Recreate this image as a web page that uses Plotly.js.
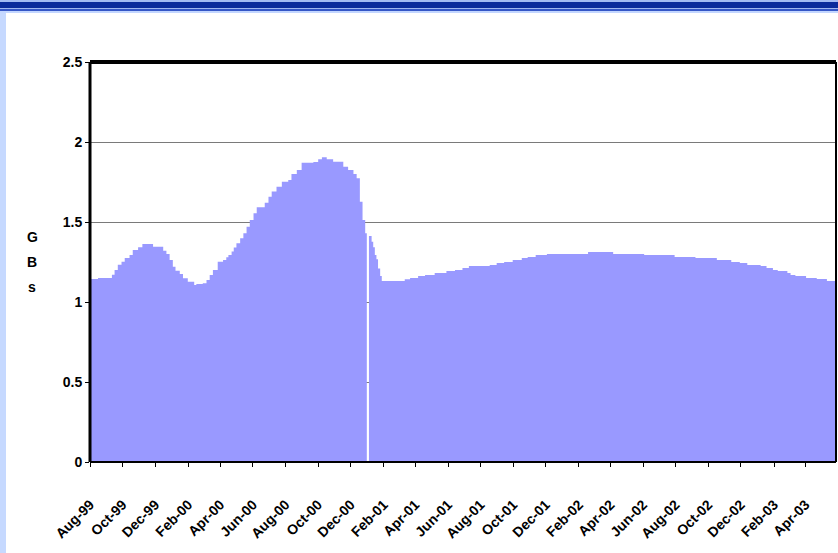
<!DOCTYPE html>
<html>
<head>
<meta charset="utf-8">
<script src="https://cdn.plot.ly/plotly-3.0.1.min.js"></script>
<style>
  html, body { margin: 0; padding: 0; background: #ffffff; }
  #wrap { position: relative; width: 838px; height: 553px; overflow: hidden; background: #ffffff; }
  .deco { position: absolute; left: 0; }
  #chart { position: absolute; left: 0; top: 0; width: 838px; height: 553px; }
</style>
</head>
<body>
<div id="wrap">
  <div class="deco" style="top:0;width:838px;height:2px;background:#a3bbf3;"></div>
  <div class="deco" style="top:2px;width:838px;height:6px;background:#0b2b9c;"></div>
  <div class="deco" style="top:8px;width:838px;height:1px;background:#9fb6ee;"></div>
  <div class="deco" style="top:9px;width:838px;height:2px;background:#3556c6;"></div>
  <div class="deco" style="top:11px;width:838px;height:2px;background:#c3d6ff;"></div>
  <div class="deco" style="top:13px;width:6px;height:540px;background:#c6d9ff;"></div>
  <div id="chart"></div>
</div>
<script>
// (GBs, step changes by date)
const dates = [
  "1999-08-01","1999-08-16","1999-09-11","1999-09-16","1999-09-22","1999-09-29","1999-10-05","1999-10-14",
  "1999-10-20","1999-10-30","1999-11-07","1999-11-27","1999-12-16","1999-12-22","1999-12-28","2000-01-03",
  "2000-01-08","2000-01-16","2000-01-22","2000-01-31","2000-02-12","2000-02-16","2000-02-28","2000-03-06",
  "2000-03-12","2000-03-18","2000-03-27","2000-04-06","2000-04-12","2000-04-16","2000-04-22","2000-04-26",
  "2000-05-01","2000-05-08","2000-05-14","2000-05-20","2000-05-26","2000-06-02","2000-06-08","2000-06-23",
  "2000-06-30","2000-07-06","2000-07-15","2000-07-25","2000-08-06","2000-08-12","2000-08-22","2000-08-31",
  "2000-09-22","2000-10-01","2000-10-08","2000-10-17","2000-10-29","2000-11-17","2000-11-26","2000-12-06",
  "2000-12-12","2000-12-18","2000-12-23","2000-12-28","2000-12-31","2001-01-04","2001-01-09","2001-01-12",
  "2001-01-15","2001-01-18","2001-01-21","2001-01-25","2001-01-28","2001-03-12","2001-03-22","2001-04-06",
  "2001-04-19","2001-05-07","2001-05-29","2001-06-14","2001-06-28","2001-07-10","2001-08-18","2001-08-31",
  "2001-09-14","2001-09-30","2001-10-17","2001-10-28","2001-11-12","2001-12-03","2002-02-18","2002-04-06",
  "2002-06-03","2002-07-30","2002-09-07","2002-10-17","2002-11-13","2002-11-29","2002-12-13","2003-01-07",
  "2003-01-18","2003-01-30","2003-02-08","2003-02-26","2003-03-04","2003-03-13","2003-04-02","2003-04-22",
  "2003-05-11","2003-05-28"
];
const gbs = [
  1.144,1.15,1.17,1.2,1.233,1.252,1.275,1.294,
  1.325,1.342,1.3625,1.346,1.321,1.3,1.2625,1.221,
  1.196,1.175,1.148,1.127,1.106,1.1125,1.117,1.1375,
  1.169,1.2,1.252,1.2625,1.28,1.294,1.315,1.34,
  1.367,1.398,1.429,1.471,1.5125,1.554,1.592,1.621,
  1.658,1.69,1.721,1.752,1.7625,1.8,1.825,1.871,
  1.875,1.892,1.904,1.892,1.877,1.846,1.825,1.8,
  1.773,1.627,1.5125,1.43,0,1.4125,1.377,1.342,
  1.294,1.267,1.21,1.1625,1.131,1.142,1.15,1.1625,
  1.169,1.181,1.194,1.2,1.2125,1.225,1.231,1.244,
  1.25,1.2625,1.275,1.281,1.294,1.3,1.3125,1.3,
  1.294,1.281,1.275,1.2625,1.25,1.244,1.231,1.225,
  1.2125,1.2,1.194,1.181,1.169,1.1625,1.15,1.144,
  1.131,1.131
];
const xStart = "1999-08-01";
const xEnd = "2003-05-28";
const yTitle = "GBs";
const tickFormat = "%b-%y";

const fam = "Liberation Sans, Arial, sans-serif";
const tickFont = { family: fam, size: 14, color: "#000000", weight: "bold" };

const trace = {
  type: "scatter",
  mode: "lines",
  x: dates,
  y: gbs,
  line: { width: 0, shape: "hv", color: "#9999ff" },
  fill: "tozeroy",
  fillcolor: "#9999ff",
  hoverinfo: "skip",
  showlegend: false
};

const annotations = yTitle.split("").map((ch, i) => ({
  text: "<b>" + ch + "</b>",
  xref: "paper", yref: "paper",
  x: -0.0777, y: 0.5625 - i * 0.0625,
  xanchor: "center", yanchor: "middle",
  showarrow: false,
  font: { family: fam, size: 14, color: "#000000" }
}));

const layout = {
  width: 838,
  height: 553,
  margin: { l: 90, r: 2, t: 62, b: 91 },
  paper_bgcolor: "rgba(0,0,0,0)",
  plot_bgcolor: "#ffffff",
  font: { family: fam, size: 14, color: "#000000" },
  showlegend: false,
  xaxis: {
    type: "date",
    range: [xStart, xEnd],
    tick0: xStart,
    dtick: "M2",
    tickformat: tickFormat,
    tickangle: -45,
    ticks: "outside",
    ticklen: 4,
    tickwidth: 1,
    tickcolor: "#000000",
    ticklabelstandoff: 24,
    showgrid: false,
    zeroline: false,
    showline: false,
    tickfont: tickFont
  },
  yaxis: {
    range: [0, 2.5],
    dtick: 0.5,
    tick0: 0,
    ticks: "outside",
    ticklen: 4,
    tickwidth: 1,
    tickcolor: "#000000",
    showgrid: true,
    gridcolor: "#7a7a7a",
    gridwidth: 1,
    zeroline: false,
    showline: false,
    tickfont: tickFont
  },
  annotations: annotations,
  shapes: [
    { type: "line", xref: "paper", yref: "paper", x0: 0, x1: 1, y0: 1, y1: 1, line: { color: "#000000", width: 4 }, layer: "above" },
    { type: "line", xref: "paper", yref: "paper", x0: 0, x1: 0, y0: 0, y1: 1, line: { color: "#000000", width: 3 }, layer: "above" },
    { type: "line", xref: "paper", yref: "paper", x0: 1, x1: 1, y0: 0, y1: 1, line: { color: "#000000", width: 2 }, layer: "above" },
    { type: "line", xref: "paper", yref: "paper", x0: 0, x1: 1, y0: 0, y1: 0, line: { color: "#000000", width: 2 }, layer: "above" }
  ]
};

Plotly.newPlot("chart", [trace], layout, { staticPlot: true, displayModeBar: false });
</script>
</body>
</html>
